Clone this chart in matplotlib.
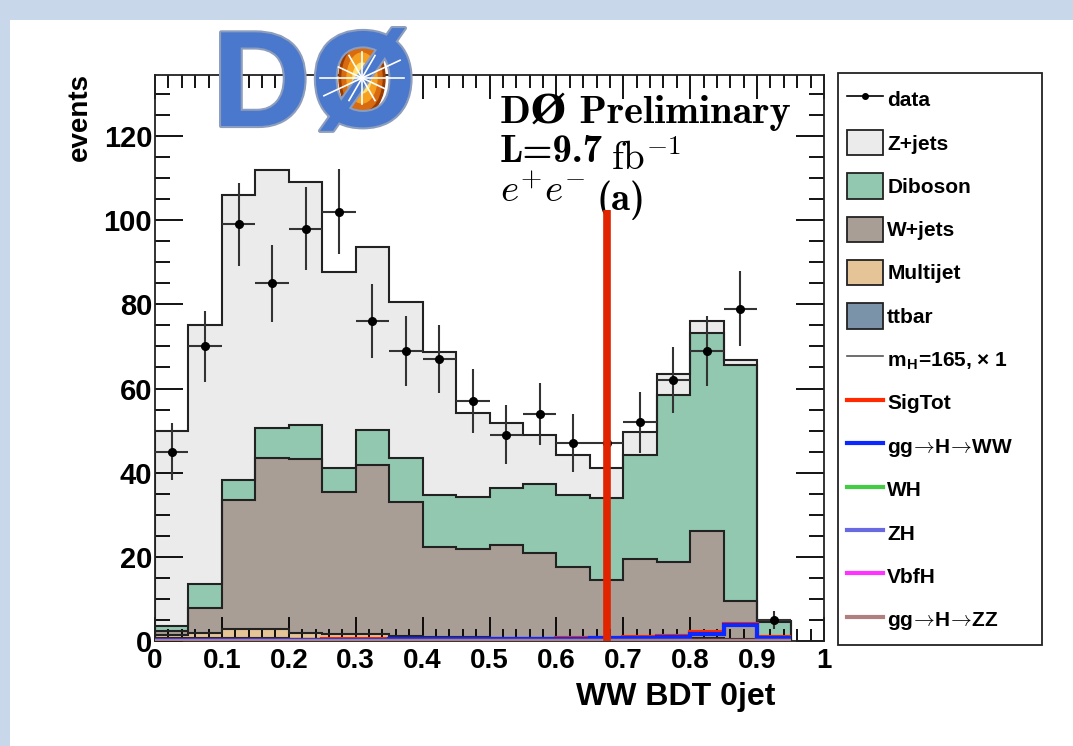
import numpy as np
import matplotlib.pyplot as plt
from matplotlib.patches import Ellipse, Rectangle, Patch
from matplotlib.lines import Line2D
import matplotlib.patheffects as pe

plt.rcParams['font.family'] = ['Liberation Sans', 'DejaVu Sans']
plt.rcParams['font.weight'] = 'bold'
plt.rcParams['mathtext.fontset'] = 'cm'

# --- histogram content, 0.05 wide bins from 0 to 0.95 ---
bin_edges = np.round(np.arange(0, 0.951, 0.05), 3)
data = [45, 70, 99, 85, 98, 102, 76, 69, 67, 57, 49, 54, 47, 47, 52, 62, 69, 79, 5]

ttbar = [0.7, 0.6, 0.6, 0.6, 0.5, 0.5, 0.5, 0.5, 0.4, 0.4, 0.4, 0.4, 0.3, 0.3, 0.3, 0.3, 0.3, 0.2, 0.1]
multijet = [0.8, 1.2, 2.2, 2.3, 1.3, 1.1, 1.1, 0.8, 0.5, 0.5, 0.4, 0.4, 0.4, 0.4, 0.3, 0.3, 0.3, 0.3, 0.1]
wjets = [0.9, 6.1, 30.7, 40.6, 41.4, 33.8, 40.2, 31.7, 21.5, 20.9, 21.9, 20.2, 17.0, 13.8, 18.8, 18.2, 25.5, 9.0, 0.2]
diboson = [1.1, 5.6, 4.7, 7.1, 8.1, 5.7, 8.3, 10.4, 12.3, 12.5, 13.6, 16.3, 17.0, 19.4, 24.8, 39.6, 47.1, 56.2, 4.2]
zjets = [46.5, 61.5, 67.8, 61.3, 57.7, 46.5, 43.6, 37.2, 33.9, 19.9, 15.4, 11.6, 9.5, 7.1, 5.4, 5.0, 2.9, 1.0, 0.2]

# signal, mH = 165
sig_tot = [0.3, 0.3, 0.35, 0.35, 0.35, 0.4, 0.4, 0.45, 0.45, 0.5, 0.5, 0.55, 0.6, 0.7, 1.0, 1.1, 2.1, 4.1, 1.0]
ggh_ww = [0.25, 0.25, 0.3, 0.3, 0.3, 0.35, 0.35, 0.4, 0.4, 0.45, 0.45, 0.5, 0.55, 0.6, 0.8, 0.9, 1.7, 3.7, 0.8]
wh = [0.1] * 19
zh = [0.08] * 19
vbfh = [0.06] * 19
ggh_zz = [0.05] * 19

cut_x = 0.676
cut_height = 102.4

backgrounds = [
    ('ttbar', ttbar, '#7a93a8'),
    ('Multijet', multijet, '#e5c498'),
    ('W+jets', wjets, '#a89e95'),
    ('Diboson', diboson, '#91c8af'),
    ('Z+jets', zjets, '#ebebeb'),
]
arrow = '$\\!\\rightarrow\\!$'
signals = [
    ('SigTot', sig_tot, '#ff2a00'),
    ('gg' + arrow + 'H' + arrow + 'WW', ggh_ww, '#0a28ff'),
    ('WH', wh, '#44cc44'),
    ('ZH', zh, '#6a6ae0'),
    ('VbfH', vbfh, '#ff33ff'),
    ('gg' + arrow + 'H' + arrow + 'ZZ', ggh_zz, '#b08080'),
]

fig = plt.figure(figsize=(10.73, 7.46), dpi=100)
fig.patch.set_facecolor('#c9d7ea')
fig.add_artist(Rectangle((10 / 1073, 0), 1, 1 - 20 / 746, transform=fig.transFigure,
                         facecolor='white', edgecolor='none', zorder=-5))

ax = fig.add_axes([155 / 1073, 1 - 641 / 746, 669 / 1073, 566 / 746])

# stacked backgrounds, drawn back to front
cum = np.cumsum([np.array(b[1]) for b in backgrounds], axis=0)
for i in range(len(backgrounds) - 1, -1, -1):
    name, vals, col = backgrounds[i]
    ax.stairs(cum[i], bin_edges, fill=True, facecolor=col, edgecolor='none', zorder=1)
    ax.stairs(cum[i], bin_edges, color='#222222', lw=1.5, zorder=2)

for name, vals, col in signals:
    ax.stairs(vals, bin_edges, baseline=None, color=col, lw=3, zorder=3)

centers = (bin_edges[:-1] + bin_edges[1:]) / 2
ax.errorbar(centers, data, xerr=0.025, yerr=np.sqrt(data), fmt='o', color='black',
            ecolor='#333333', elinewidth=1.5, ms=5.5, capsize=0, zorder=4)

ax.vlines(cut_x, 0, cut_height, color='#e02400', lw=5.5, zorder=5)

ax.set_xlim(0, 1)
ax.set_ylim(0, 134.5)
ax.set_xticks(np.arange(0, 1.01, 0.1))
ax.set_xticks(np.arange(0, 1.001, 0.02), minor=True)
ax.set_yticks(np.arange(0, 121, 20))
ax.set_yticks(np.arange(0, 134, 5), minor=True)
ax.set_xticklabels(['0', '0.1', '0.2', '0.3', '0.4', '0.5', '0.6', '0.7', '0.8', '0.9', '1'])
ax.tick_params(which='both', direction='in', top=True, right=True, width=1.3)
ax.tick_params(which='major', axis='y', length=20, pad=2, labelsize=21)
ax.tick_params(which='minor', axis='y', length=11)
ax.tick_params(which='major', axis='x', length=17, pad=5, labelsize=20)
ax.tick_params(which='minor', axis='x', length=9)
for s in ax.spines.values():
    s.set_linewidth(1.3)
    s.set_color('#222222')

fig.text(80 / 1073, 1 - 73 / 746, 'events', rotation=90, ha='center', va='top', fontsize=20)
fig.text(775 / 1073, 1 - 697 / 746, 'WW BDT 0jet', ha='right', va='center', fontsize=23)

# experiment label
tx = 500 / 1073
cm_bold = ['cmb10', 'DejaVu Serif']
fig.text(tx, 1 - 123 / 746, 'D\u00d8 Preliminary', family=cm_bold,
         weight='bold', fontsize=29, va='baseline')
lum = fig.text(tx, 1 - 162 / 746, 'L=9.7', family=cm_bold, weight='bold',
               fontsize=28, va='baseline')
ax.annotate(r'$\mathrm{fb}^{-1}$', xy=(1, 0), xycoords=lum, xytext=(6, 0),
            textcoords='offset points', fontsize=28, va='baseline', annotation_clip=False)
chan = fig.text(tx, 1 - 202 / 746, r'$e^{+}e^{-}$', fontsize=28, va='baseline')
ax.annotate('(a)', xy=(1, 0), xycoords=chan, xytext=(8, 0), textcoords='offset points',
            family=cm_bold, weight='bold', fontsize=28, va='baseline', annotation_clip=False)

# legend
fig.add_artist(Rectangle((838 / 1073, 1 - 645 / 746), 204 / 1073, 572 / 746,
                         transform=fig.transFigure, facecolor='white',
                         edgecolor='#222222', lw=1.3, zorder=3))
handles = [Line2D([], [], color='black', marker='o', ms=4, lw=1.2)]
labels = ['data']
for name, vals, col in backgrounds[::-1]:
    handles.append(Patch(facecolor=col, edgecolor='#222222', lw=1.3))
    labels.append(name)
handles.append(Line2D([], [], color='#555555', lw=1.2))
labels.append('m$_\\mathregular{H}$=165, \u00d7 1')
for name, vals, col in signals:
    handles.append(Line2D([], [], color=col, lw=3))
    labels.append(name)
leg = fig.legend(handles, labels, loc='upper left', bbox_to_anchor=(832 / 1073, 1 - 72 / 746),
                 frameon=False, fontsize=15, handlelength=1.75, handleheight=1.5,
                 handletextpad=0.2, labelspacing=0.86, borderpad=0.2)
leg.set_zorder(4)

# DØ logo
lax = fig.add_axes([0, 0, 1, 1], zorder=10)
lax.set_xlim(0, 1073)
lax.set_ylim(746, 0)
lax.axis('off')
lax.text(212, 126, 'D\u00d8', fontsize=98, weight='bold', color='#4a78cc',
         family='Liberation Sans', va='baseline',
         path_effects=[pe.withStroke(linewidth=3, foreground='#8c9dbd')])
for w, h, c in [(46, 74, '#9a3c00'), (40, 66, '#d86a10'), (30, 50, '#f6a020'),
                (18, 30, '#ffe070'), (8, 12, 'white')]:
    lax.add_patch(Ellipse((362, 78), w, h, color=c, zorder=2))
for ang in np.deg2rad([0, 25, 60, 90, 120, 155, 180, 205, 240, 270, 300, 335]):
    r = 42 if ang % np.pi < 0.5 else 26
    lax.plot([362, 362 + r * np.cos(ang)], [78, 78 - r * np.sin(ang)], color='white', lw=1.2, zorder=3)

fig.savefig('out.png', dpi=100, facecolor=fig.get_facecolor())
